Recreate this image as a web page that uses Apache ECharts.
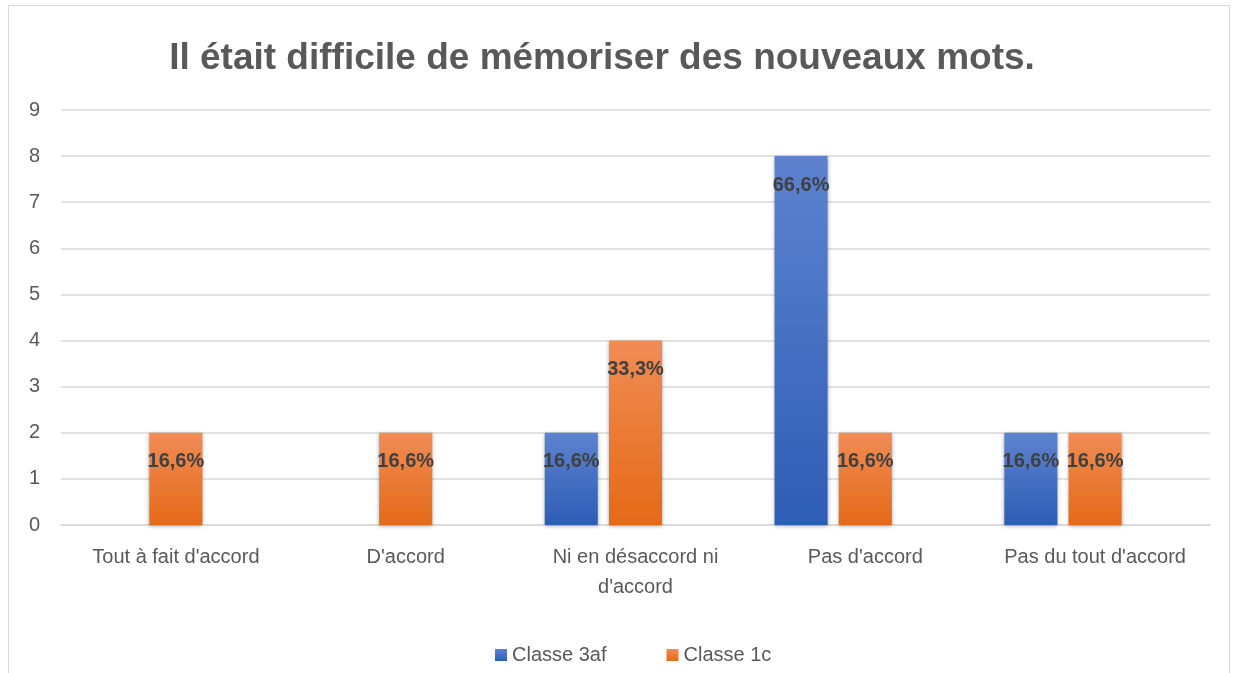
<!DOCTYPE html>
<html>
<head>
<meta charset="utf-8">
<script src="https://cdn.jsdelivr.net/npm/echarts@6/dist/echarts.min.js"></script>
<style>
  html, body { margin: 0; padding: 0; background: #fff; }
  .frame {
    position: absolute; left: 8px; top: 5px; width: 1222px; height: 700px;
    border: 1px solid #d9d9d9; box-sizing: border-box;
  }
  #chart { position: absolute; left: 0; top: 0; width: 1238px; height: 673px; }
</style>
</head>
<body>
<div class="frame"></div>
<div id="chart"></div>
<script>
const titleText = 'Il était difficile de mémoriser des nouveaux mots.'
const categories = ["Tout à fait d'accord", "D'accord", "Ni en désaccord ni\nd'accord", "Pas d'accord", "Pas du tout d'accord"]
const classe3af = [0, 0, 2, 8, 2]
const classe1c = [2, 2, 4, 2, 2]
const labels3af = ['', '', '16,6%', '66,6%', '16,6%']
const labels1c = ['16,6%', '16,6%', '33,3%', '16,6%', '16,6%']
// Excel chart keeps room for a third, empty series
const emptySeries = [null, null, null, null, null]
const yTicks = [0, 1, 2, 3, 4, 5, 6, 7, 8, 9]

const textColor = '#595959'

function grad (top, bottom) {
  return new echarts.graphic.LinearGradient(0, 0, 0, 1, [
    { offset: 0, color: top },
    { offset: 1, color: bottom }
  ])
}

function barLabel (texts) {
  return {
    show: true,
    position: 'insideTop',
    distance: 19,
    color: '#404040',
    fontWeight: 'bold',
    fontSize: 20,
    fontFamily: 'Liberation Sans',
    formatter: p => texts[p.dataIndex]
  }
}

const chart = echarts.init(document.getElementById('chart'))
chart.setOption({
  animation: false,
  textStyle: { fontFamily: 'Liberation Sans' },
  title: {
    text: titleText,
    left: 597,
    textAlign: 'center',
    top: 35,
    textStyle: { fontSize: 37, fontWeight: 'bold', color: textColor, fontFamily: 'Liberation Sans' }
  },
  legend: {
    bottom: 3,
    left: 490,
    itemWidth: 12,
    itemHeight: 12,
    itemGap: 60,
    icon: 'rect',
    data: ['Classe 3af', 'Classe 1c'],
    textStyle: { fontSize: 20, color: textColor }
  },
  grid: { left: 61, right: 28, top: 110, bottom: 148 },
  xAxis: {
    type: 'category',
    data: categories,
    axisLine: { lineStyle: { color: '#d9d9d9', width: 1.5 } },
    axisTick: { show: false },
    axisLabel: { fontSize: 20, color: textColor, margin: 17, lineHeight: 30, interval: 0 }
  },
  yAxis: {
    type: 'value',
    min: yTicks[0],
    max: yTicks[yTicks.length - 1],
    interval: 1,
    axisLabel: { fontSize: 20, color: textColor, margin: 21 },
    splitLine: { lineStyle: { color: '#d9d9d9', width: 1.5 } }
  },
  series: [
    {
      name: 'Classe 3af',
      type: 'bar',
      data: classe3af,
      barGap: '21%',
      barCategoryGap: '21%',
      itemStyle: {
        color: grad('#5d83cf', '#2e5db5'),
        shadowBlur: 4,
        shadowColor: 'rgba(0,0,0,0.35)',
        shadowOffsetY: 1
      },
      label: barLabel(labels3af)
    },
    {
      name: 'Classe 1c',
      type: 'bar',
      data: classe1c,
      itemStyle: {
        color: grad('#f08c55', '#e46a17'),
        shadowBlur: 4,
        shadowColor: 'rgba(0,0,0,0.35)',
        shadowOffsetY: 1
      },
      label: barLabel(labels1c)
    },
    {
      name: '',
      type: 'bar',
      data: emptySeries
    }
  ]
})
</script>
</body>
</html>
